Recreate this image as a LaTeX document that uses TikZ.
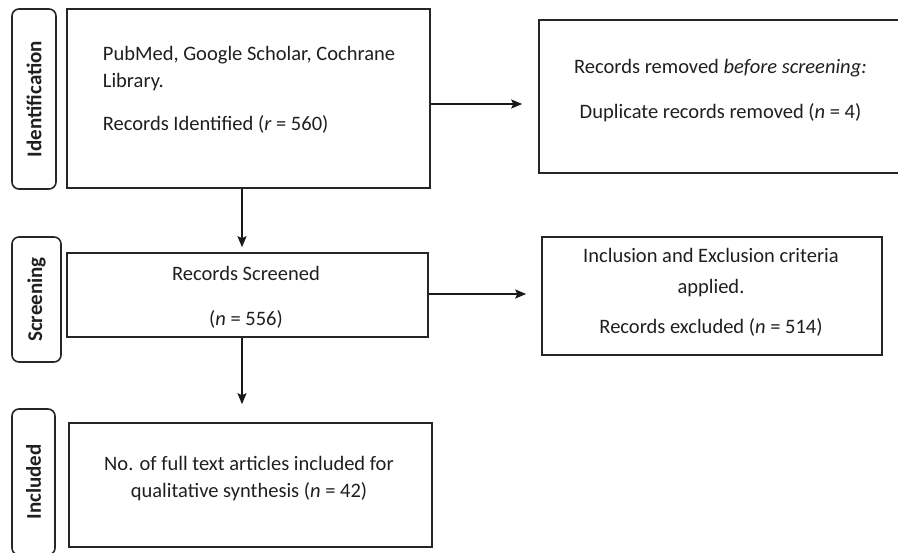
\documentclass[tikz,border=0pt]{standalone}
\usepackage{fontspec}
\setmainfont{Carlito}
\usetikzlibrary{arrows.meta}
\begin{document}
\begin{tikzpicture}[x=1pt,y=-1pt,
    box/.style={draw=black!85, line width=1.6pt},
    txt/.style={inner sep=0pt, text=black!88, font=\fontsize{20.5}{27}\selectfont},
    phase/.style={draw=black!85, rounded corners=7pt, line width=1.6pt, rotate=90,
      inner sep=0pt, text=black!88, font=\fontsize{21}{24}\selectfont\bfseries},
    arr/.style={draw=black!90, line width=1.5pt, -{Stealth[length=11pt,width=9pt,inset=2pt]}}]
    \useasboundingbox (0,0) rectangle (898,553);
    \clip (0,0) rectangle (898,553);

    % phases on the left
    \node[phase, minimum width=180pt, minimum height=44pt] (id)  at (34, 99)  {Identification};
    \node[phase, minimum width=125pt, minimum height=49pt] (scr) at (36.5, 299.5) {Screening};
    \node[phase, minimum width=146pt, minimum height=43pt] (inc) at (33.5, 482) {Included};

    % boxes
    \node[box, minimum width=363pt, minimum height=179pt] (b1) at (248.5, 98.5) {};
    \node[box, minimum width=371pt, minimum height=153pt] (r1) at (724.5, 96.5) {};
    \node[box, minimum width=361pt, minimum height=84pt]  (b2) at (247.5, 295)  {};
    \node[box, minimum width=340pt, minimum height=118pt] (r2) at (712, 296)    {};
    \node[box, minimum width=363pt, minimum height=124pt] (b3) at (250.5, 485)  {};

    % texts
    \node[txt, align=left] (b1t) at (249, 90)
      {PubMed, Google Scholar, Cochrane\\ Library.\\[16pt] Records Identified (\textit{r} = 560)};
    \node[txt, align=center] (r1t) at (720.5, 90.5)
      {Records removed \textit{before screening:}\\[18pt] Duplicate records removed (\textit{n} = 4)};
    \node[txt, align=center] (b2t) at (246, 297.5)
      {Records Screened\\[18pt] (\textit{n} = 556)};
    \node[txt, align=center] (r2t) at (711, 292.5)
      {Inclusion and Exclusion criteria\\[4pt] applied.\\[13pt] Records excluded (\textit{n} = 514)};
    \node[txt, align=center] (b3t) at (249, 478.5)
      {No. of full text articles included for\\ qualitative synthesis (\textit{n} = 42)};

    % arrows
    \draw[arr, shorten >=16pt] ([yshift=-5.5pt]b1.east) -- ([yshift=-7.5pt]r1.west);
    \draw[arr, shorten >=15pt] ([yshift=1pt]b2.east) -- ([yshift=2pt]r2.west);
    \draw[arr, shorten >=5pt] ([xshift=-6.5pt]b1.south) -- ([xshift=-5.5pt]b2.north);
    \draw[arr, shorten >=18pt] ([xshift=-5.5pt]b2.south) -- ([xshift=-8.5pt]b3.north);

  \end{tikzpicture}
\end{document}
